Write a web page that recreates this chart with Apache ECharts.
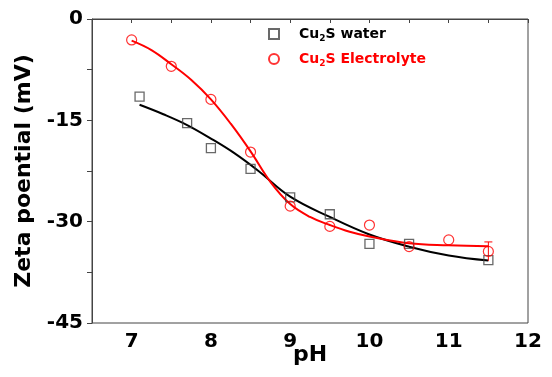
<!DOCTYPE html>
<html>
<head>
<meta charset="utf-8">
<script src="https://cdn.jsdelivr.net/npm/echarts@6/dist/echarts.min.js"></script>
<style>
html,body{margin:0;padding:0;background:#fff;}
#chart{width:552px;height:377px;}
</style>
</head>
<body>
<div id="chart"></div>
<script>
// measured points
var waterPH = [7.1, 7.7, 8.0, 8.5, 9.0, 9.5, 10.0, 10.5, 11.5];
var waterZeta = [-11.5, -15.4, -19.1, -22.2, -26.4, -28.9, -33.3, -33.3, -35.7];
var elecPH = [7.0, 7.5, 8.0, 8.5, 9.0, 9.5, 10.0, 10.5, 11.0, 11.5];
var elecZeta = [-3.1, -7.0, -11.9, -19.7, -27.7, -30.7, -30.5, -33.7, -32.7, -34.4];
// fitted curves
var waterFitPH = [7.1, 7.4, 7.7, 8.0, 8.3, 8.6, 9.0, 9.5, 10.0, 10.5, 11.0, 11.5];
var waterFitZeta = [-12.7, -14.1, -15.7, -17.7, -19.9, -22.5, -26.3, -29.3, -31.9, -33.7, -35.0, -35.75];
var elecFitPH = [7.0, 7.25, 7.5, 7.75, 8.0, 8.25, 8.5, 8.75, 9.0, 9.25, 9.5, 9.75, 10.0, 10.5, 11.0, 11.5];
var elecFitZeta = [-3.2, -4.6, -6.7, -9.0, -11.9, -15.5, -19.6, -24.1, -27.4, -29.3, -30.5, -31.5, -32.2, -33.2, -33.5, -33.65];
// error bar on last electrolyte point
var errPH = [11.5];
var errHigh = [-33.0];
var errLow = [-35.8];

var pairs = function(xs, ys){
	var out = [];
	for(var i = 0; i < xs.length; i++){ out.push([xs[i], ys[i]]); }
	return out;
};
var errData = [];
for(var i = 0; i < errPH.length; i++){ errData.push([errPH[i], errHigh[i], errLow[i]]); }

var FONT = '"DejaVu Sans", "Liberation Sans", sans-serif';
var myChart = echarts.init(document.getElementById('chart'));
var sub = function(c){
	return {
		a: {color: c, fontFamily: FONT, fontWeight: 'bold', fontSize: 14},
		s: {color: c, fontFamily: FONT, fontWeight: 'bold', fontSize: 9, padding: [9, 0, 0, 0]}
	};
};
var option = {
	animation: false,
	backgroundColor: '#fff',
	grid: {left: 92, top: 19, right: 24, bottom: 54, outerBoundsMode: 'none', containLabel: false,
		show: true, borderColor: '#444', borderWidth: 1},
	legend: {
		orient: 'vertical',
		left: 263,
		top: 22,
		itemGap: 9,
		itemWidth: 10,
		itemHeight: 10,
		data: [
			{name: 'Cu2S water', textStyle: {color: '#000', rich: sub('#000')}},
			{name: 'Cu2S Electrolyte', textStyle: {color: '#ff0000', rich: sub('#ff0000')}}
		],
		formatter: function(name){
			return '{a|Cu}{s|2}{a|' + name.slice(3) + '}';
		},
		textStyle: {fontFamily: FONT, fontWeight: 'bold', fontSize: 14, padding: [0, 0, 0, 15]}
	},
	xAxis: {
		type: 'value',
		min: 6.5,
		max: 12,
		interval: 0.5,
		name: 'pH',
		nameLocation: 'middle',
		nameGap: 21,
		nameMoveOverlap: false,
		nameTextStyle: {fontFamily: FONT, fontWeight: 'bold', fontSize: 22, color: '#000'},
		axisLine: {lineStyle: {color: '#444'}},
		axisTick: {inside: false, length: 4, lineStyle: {color: '#444'}},
		splitLine: {show: false},
		axisLabel: {
			fontFamily: FONT, fontWeight: 'bold', fontSize: 20, color: '#000', margin: 9,
			formatter: function(v){ return (v % 1 === 0 && v > 6.5) ? String(v) : ''; }
		}
	},
	yAxis: {
		type: 'value',
		min: -45,
		max: 0,
		interval: 7.5,
		name: 'Zeta poential (mV)',
		nameLocation: 'middle',
		nameGap: 57,
		nameMoveOverlap: false,
		nameTextStyle: {fontFamily: FONT, fontWeight: 'bold', fontSize: 22, color: '#000'},
		axisLine: {show: true, lineStyle: {color: '#444'}},
		axisTick: {show: true, inside: false, length: 5, lineStyle: {color: '#444'}},
		splitLine: {show: false},
		axisLabel: {
			fontFamily: FONT, fontWeight: 'bold', fontSize: 20, color: '#000', margin: 9,
			formatter: function(v){ return (v % 15 === 0) ? String(v) : ''; }
		}
	},
	series: [
		{
			name: 'water fit',
			type: 'line',
			smooth: 0.4,
			showSymbol: false,
			data: pairs(waterFitPH, waterFitZeta),
			lineStyle: {color: '#000', width: 2},
			z: 2
		},
		{
			name: 'electrolyte fit',
			type: 'line',
			smooth: 0.4,
			showSymbol: false,
			data: pairs(elecFitPH, elecFitZeta),
			lineStyle: {color: '#ff0000', width: 2},
			z: 2
		},
		{
			name: 'Cu2S water',
			type: 'scatter',
			symbol: 'rect',
			symbolSize: 9,
			data: pairs(waterPH, waterZeta),
			itemStyle: {color: 'rgba(255,255,255,0)', borderColor: '#444', borderWidth: 1.3},
			z: 3
		},
		{
			name: 'Cu2S Electrolyte',
			type: 'scatter',
			symbol: 'circle',
			symbolSize: 10,
			data: pairs(elecPH, elecZeta),
			itemStyle: {color: 'rgba(255,255,255,0)', borderColor: '#ff0000', borderWidth: 1.2},
			z: 3
		},
		{
			name: 'err',
			type: 'custom',
			data: errData,
			renderItem: function(params, api){
				var top = api.coord([api.value(0), api.value(1)]);
				var bot = api.coord([api.value(0), api.value(2)]);
				return {
					type: 'group',
					children: [
						{type: 'line', shape: {x1: top[0], y1: top[1], x2: bot[0], y2: bot[1]}, style: {stroke: '#ff0000', lineWidth: 1}},
						{type: 'line', shape: {x1: top[0] - 4, y1: top[1], x2: top[0] + 4, y2: top[1]}, style: {stroke: '#ff0000', lineWidth: 1}}
					]
				};
			},
			z: 3
		}
	]
};
myChart.setOption(option);
</script>
</body>
</html>
